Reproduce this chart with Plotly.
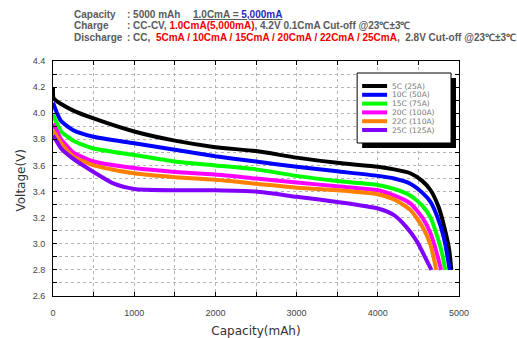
import plotly.graph_objects as go

# ---------------- data ----------------
series_names = ["5C (25A)", "10C (50A)", "15C (75A)", "20C (100A)", "22C (110A)", "25C (125A)"]
series_colors = ["#000000", "#0000ff", "#00ff00", "#ff00ff", "#ff8000", "#8000ff"]

cap_5c = [0, 5, 30, 100, 250, 500, 1000, 1500, 2000, 2500, 3000, 3500, 4000, 4200, 4400, 4550, 4650, 4750, 4830, 4880, 4905]
v_5c = [4.20, 4.12, 4.10, 4.07, 4.02, 3.96, 3.86, 3.79, 3.74, 3.71, 3.66, 3.62, 3.59, 3.57, 3.54, 3.48, 3.41, 3.28, 3.10, 2.95, 2.80]

cap_10c = [0, 50, 100, 250, 500, 1000, 1500, 2000, 2500, 3000, 3500, 4000, 4200, 4400, 4550, 4650, 4760, 4830, 4885]
v_10c = [4.08, 4.00, 3.94, 3.87, 3.82, 3.77, 3.72, 3.67, 3.63, 3.59, 3.555, 3.52, 3.50, 3.46, 3.39, 3.32, 3.16, 3.00, 2.80]

cap_15c = [0, 50, 100, 250, 500, 1000, 1500, 2000, 2500, 3000, 3500, 4000, 4200, 4400, 4550, 4650, 4720, 4790, 4830]
v_15c = [3.99, 3.92, 3.86, 3.79, 3.73, 3.68, 3.63, 3.60, 3.57, 3.52, 3.48, 3.45, 3.42, 3.37, 3.29, 3.20, 3.08, 2.93, 2.80]

cap_20c = [0, 50, 100, 250, 500, 1000, 1500, 2000, 2500, 3000, 3500, 4000, 4200, 4400, 4550, 4650, 4730, 4780]
v_20c = [3.92, 3.86, 3.80, 3.70, 3.63, 3.58, 3.55, 3.53, 3.50, 3.47, 3.44, 3.41, 3.37, 3.31, 3.20, 3.08, 2.92, 2.80]

cap_22c = [0, 50, 100, 250, 500, 1000, 1500, 2000, 2500, 3000, 3500, 4000, 4200, 4400, 4550, 4650, 4720]
v_22c = [3.87, 3.82, 3.77, 3.67, 3.60, 3.54, 3.51, 3.49, 3.46, 3.43, 3.41, 3.38, 3.34, 3.26, 3.13, 2.99, 2.80]

cap_25c = [0, 50, 100, 250, 500, 750, 1000, 1500, 2000, 2500, 3000, 3500, 4000, 4200, 4350, 4480, 4580, 4660]
v_25c = [3.83, 3.78, 3.73, 3.65, 3.55, 3.46, 3.42, 3.41, 3.41, 3.40, 3.36, 3.32, 3.27, 3.22, 3.13, 3.02, 2.90, 2.80]

series_caps = [cap_5c, cap_10c, cap_15c, cap_20c, cap_22c, cap_25c]
series_volts = [v_5c, v_10c, v_15c, v_20c, v_22c, v_25c]

x_range = [0, 5000]
y_range = [2.6, 4.4]

# ---------------- layout helpers ----------------
W, H = 517, 338
L, R, T, B = 52.5, 459, 61, 296   # plot area in pixels


def px_x(px):
    return (px - L) / (R - L)


def px_y(py):
    return (B - py) / (B - T)


fig = go.Figure()
for name, color, xs, ys in zip(series_names, series_colors, series_caps, series_volts):
    fig.add_trace(go.Scatter(x=xs, y=ys, mode="lines", name=name,
                             line=dict(color=color, width=4, shape="spline", smoothing=0.6),
                             showlegend=False, hoverinfo="skip"))

grid = dict(showgrid=True, gridcolor="#b4b4b4", griddash="dot", gridwidth=1)
tickfont = dict(family="Liberation Sans, Arial, sans-serif", size=9, color="#444444")

fig.update_xaxes(range=x_range, dtick=1000, tick0=0, ticks="inside", ticklen=4, tickcolor="#000",
                 showline=True, linecolor="#000", linewidth=1, mirror="ticks", zeroline=False,
                 tickfont=tickfont, ticklabelstandoff=8, automargin=False, **grid,
                 minor=dict(dtick=500, ticks="inside", ticklen=4, tickcolor="#000",
                            showgrid=True, gridcolor="#b4b4b4", griddash="dot"),
                 title=dict(text="Capacity(mAh)",
                            font=dict(family="DejaVu Sans, sans-serif", size=12, color="#333")))
fig.update_yaxes(range=y_range, dtick=0.2, tick0=2.6, tickformat=".1f", ticks="inside", ticklen=4,
                 tickcolor="#000", showline=True, linecolor="#000", linewidth=1, mirror="ticks",
                 zeroline=False, tickfont=tickfont, ticklabelstandoff=5, automargin=False, **grid,
                 minor=dict(dtick=0.1, ticks="inside", ticklen=4, tickcolor="#000",
                            showgrid=True, gridcolor="#b4b4b4", griddash="dot"))

# ---------------- custom legend (boxed, with shadow) ----------------
shapes = []
shapes.append(dict(type="rect", xref="paper", yref="paper", layer="above",
                   x0=px_x(362), x1=px_x(456), y0=px_y(148), y1=px_y(78),
                   fillcolor="#000", line=dict(width=0)))
shapes.append(dict(type="rect", xref="paper", yref="paper", layer="above",
                   x0=px_x(357), x1=px_x(451), y0=px_y(143), y1=px_y(73),
                   fillcolor="#fff", line=dict(color="#000", width=1)))
annotations = []
for i, (name, color) in enumerate(zip(series_names, series_colors)):
    yy = px_y(86 + i * 8.8)
    shapes.append(dict(type="line", xref="paper", yref="paper", layer="above",
                       x0=px_x(362), x1=px_x(387), y0=yy, y1=yy,
                       line=dict(color=color, width=4)))
    annotations.append(dict(xref="paper", yref="paper", x=px_x(391), y=yy, xanchor="left",
                            yanchor="middle", showarrow=False, text=name, borderpad=0,
                            font=dict(family="DejaVu Sans, sans-serif", size=7.5, color="#777")))

# y-axis title
annotations.append(dict(xref="paper", yref="paper", x=px_x(20), y=px_y(180), xanchor="center",
                        yanchor="middle", showarrow=False, text="Voltage(V)", textangle=-90,
                        font=dict(family="DejaVu Sans, sans-serif", size=12, color="#333")))

# ---------------- header text ----------------
hfont = dict(family="Liberation Sans, Arial, sans-serif", size=10, color="#5a5a5a")
red = "#ee0000"
header_rows = [
    ("Capacity", ": 5000 mAh"),
    ("Charge", ": CC-CV, <span style='color:%s'>1.0CmA(5,000mA)</span>, 4.2V 0.1CmA Cut-off @23℃±3℃" % red),
    ("Discharge", ": CC,  <span style='color:%s'>5CmA / 10CmA / 15CmA / 20CmA / 22CmA / 25CmA</span>,  2.8V Cut-off @23℃±3℃" % red),
]
header_y = [14, 26, 38]
for (lab, val), yy in zip(header_rows, header_y):
    annotations.append(dict(xref="paper", yref="paper", x=px_x(72), y=px_y(yy), xanchor="left",
                            yanchor="middle", showarrow=False, text="<b>%s</b>" % lab, font=hfont))
    annotations.append(dict(xref="paper", yref="paper", x=px_x(125), y=px_y(yy), xanchor="left",
                            yanchor="middle", showarrow=False, text="<b>%s</b>" % val, font=hfont))
annotations.append(dict(xref="paper", yref="paper", x=px_x(191), y=px_y(14), xanchor="left",
                        yanchor="middle", showarrow=False,
                        text="<b><u>1.0CmA = <span style='color:#2a2ab8'>5,000mA</span></u></b>",
                        font=hfont))

fig.update_layout(width=W, height=H, margin=dict(l=L, r=W - R, t=T, b=H - B, pad=0),
                  plot_bgcolor="#fff", paper_bgcolor="#fff", showlegend=False,
                  shapes=shapes, annotations=annotations)

fig.write_html("out.html")
